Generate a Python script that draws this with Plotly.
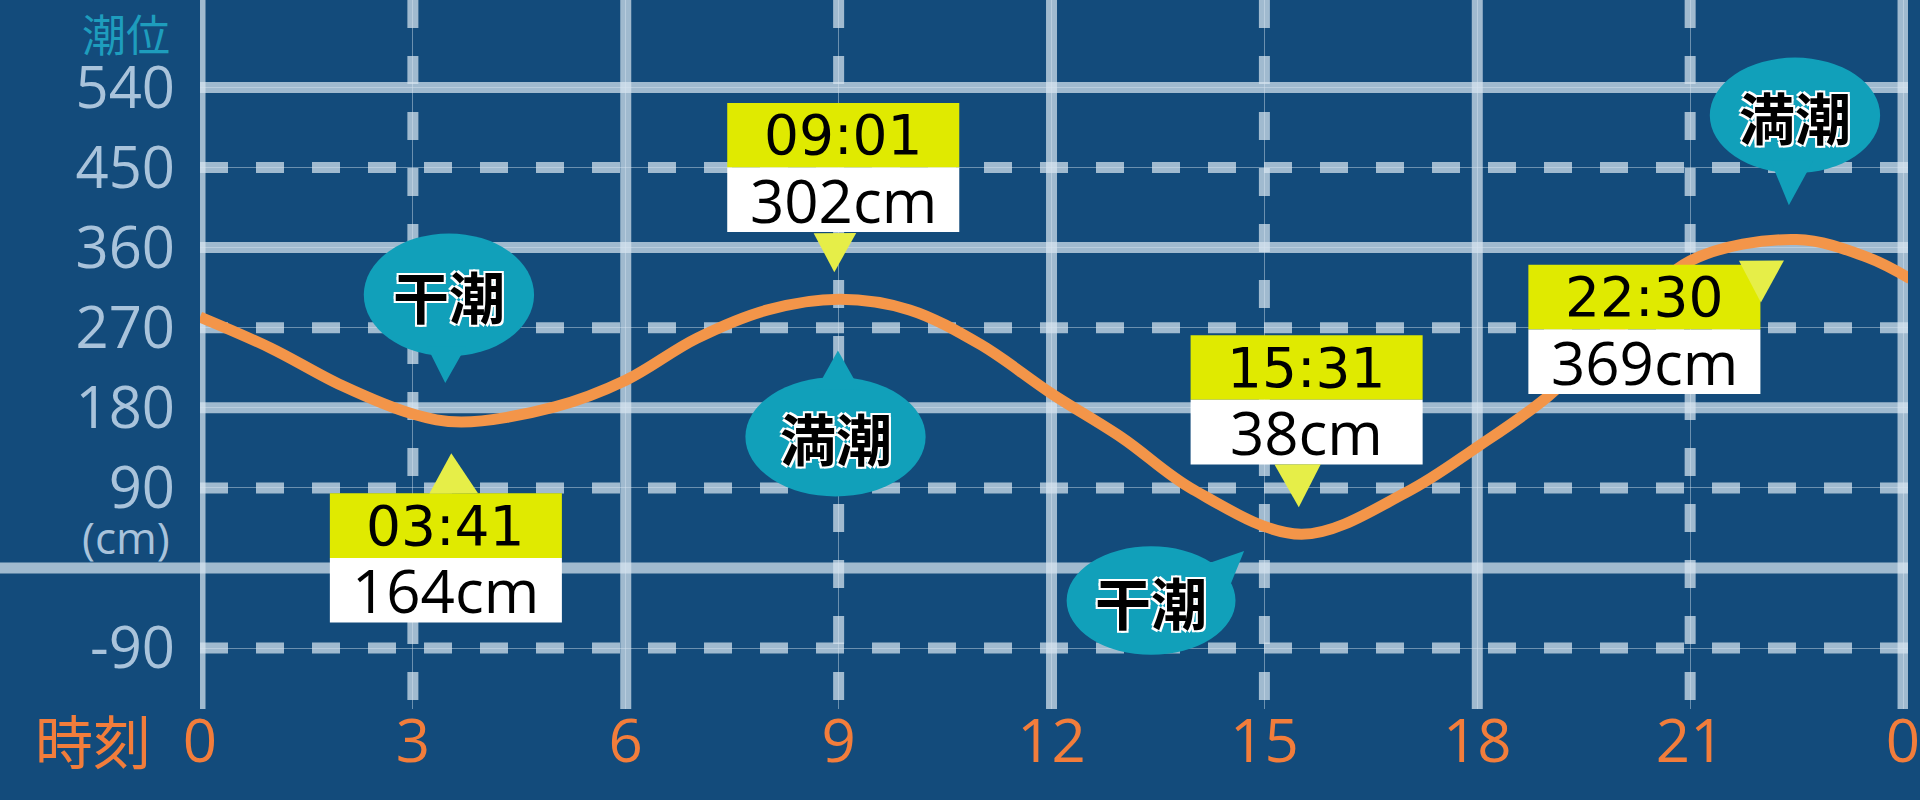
import plotly.graph_objects as go

# tide curve (hour of day, cm)
tide_hours = [0, 1, 2, 3, 3.68, 5, 6, 7, 8, 9.02, 10, 11, 12, 13, 14,
              15.52, 17, 18, 19, 20, 21, 22.5, 23.5, 24.1]
tide_cm = [282, 247, 205, 173, 164, 181, 211, 258, 290, 302, 290, 251, 196, 146, 88,
           38, 85, 136, 193, 270, 345, 369, 349, 325]

# high / low water events
event_times = ["03:41", "09:01", "15:31", "22:30"]
event_heights = [164, 302, 38, 369]
event_kinds = ["干潮", "満潮", "干潮", "満潮"]

x_ticks = [0, 3, 6, 9, 12, 15, 18, 21, 24]
x_ticktext = ["0", "3", "6", "9", "12", "15", "18", "21", "0"]
y_grid = [540, 450, 360, 270, 180, 90, 0, -90]
y_ticks = [540, 450, 360, 270, 180, 90, -90]
y_ticktext = ["540", "450", "360", "270", "180", "90", "-90"]

BG = "#134b7b"
GRID = "rgba(215,228,240,0.72)"
ORANGE = "#f39549"
TEAL = "#11a0ba"
YELLOW = "#e0ea00"
POINTER = "#e6ee48"

# callout placement (data units): label box, yellow pointer, speech bubble
boxes = [  # x0, top
    (1.83, 81), (7.43, 517), (13.96, 253), (18.72, 330)]
box_w, band_h = 3.27, 72.5
box_ptrs = [
    [(3.233, 81), (3.918, 81), (3.541, 126)],
    [(8.648, 371), (9.248, 371), (8.939, 327)],
    [(15.142, 108), (15.794, 108), (15.485, 60)],
    [(21.688, 334), (22.322, 334), (21.997, 287)],
]
bubbles = [  # cx, cy, half width, half height
    (3.508, 304, 1.2, 69), (8.956, 142, 1.27, 67),
    (13.403, -44, 1.19, 61), (22.477, 497, 1.2, 65)]
bubble_ptrs = [
    [(3.199, 246), (3.747, 246), (3.456, 205)],
    [(8.682, 195), (9.299, 195), (8.990, 239)],
    [(14.080, -6), (14.474, -36), (14.714, 11)],
    [(22.134, 446), (22.734, 446), (22.391, 396)],
]


def lift(h):
    # the source artwork sits slightly rotated; keep callouts level with its grid
    return 1.3 + 0.457 * h


def tri(pts):
    return "M " + " L ".join(f"{x},{y + lift(x)}" for x, y in pts) + " Z"


fig = go.Figure()
fig.add_trace(go.Scatter(
    x=tide_hours, y=tide_cm, mode="lines", hoverinfo="skip",
    line=dict(color=ORANGE, width=11, shape="spline", smoothing=1.0)))

shapes = []
# thick grid: solid every 180cm / 6h, dashed in between
for v in y_grid:
    shapes.append(dict(
        type="line", xref="paper", yref="y", x0=-0.12 if v == 0 else 0, x1=1, y0=v, y1=v,
        layer="between",
        line=dict(color=GRID, width=11, dash="solid" if v % 180 == 0 else "28px,28px")))
for h in x_ticks:
    shapes.append(dict(
        type="line", xref="x", yref="paper", x0=h, x1=h, y0=1, y1=0, layer="between",
        line=dict(color=GRID, width=11, dash="solid" if h % 6 == 0 else "28px,28px")))

annotations = []
for i in range(len(event_times)):
    cx, cy, hw, hh = bubbles[i]
    cy += lift(cx)
    shapes.append(dict(type="circle", xref="x", yref="y", x0=cx - hw, x1=cx + hw,
                       y0=cy - hh, y1=cy + hh, fillcolor=TEAL, line_width=0, layer="above"))
    shapes.append(dict(type="path", xref="x", yref="y", path=tri(bubble_ptrs[i]),
                       fillcolor=TEAL, line_width=0, layer="above"))
    annotations.append(dict(
        x=cx, y=cy, xref="x", yref="y", text=event_kinds[i], showarrow=False,
        font=dict(family="Noto Sans CJK JP", size=56, color="black", weight=700,
                  shadow="2px 2px 0 #fff, -2px -2px 0 #fff, 2px -2px 0 #fff, -2px 2px 0 #fff")))

    x0, top = boxes[i]
    top += lift(x0 + box_w / 2)
    shapes.append(dict(type="rect", xref="x", yref="y", x0=x0, x1=x0 + box_w,
                       y0=top - band_h, y1=top, fillcolor=YELLOW, line_width=0, layer="above"))
    shapes.append(dict(type="rect", xref="x", yref="y", x0=x0, x1=x0 + box_w,
                       y0=top - 2 * band_h, y1=top - band_h, fillcolor="white",
                       line_width=0, layer="above"))
    shapes.append(dict(type="path", xref="x", yref="y", path=tri(box_ptrs[i]),
                       fillcolor=POINTER, line_width=0, layer="above"))
    annotations.append(dict(
        x=x0 + box_w / 2, y=top - band_h / 2, xref="x", yref="y", text=event_times[i],
        showarrow=False, font=dict(family="DejaVu Sans", size=55, color="black")))
    annotations.append(dict(
        x=x0 + box_w / 2, y=top - 1.5 * band_h, xref="x", yref="y",
        text=f"{event_heights[i]}cm", showarrow=False,
        font=dict(family="Open Sans", size=60, color="black")))

annotations += [
    dict(x=-0.0163, y=0.954, xref="paper", yref="paper", text="潮位", showarrow=False,
         xanchor="right", yanchor="middle",
         font=dict(family="Noto Sans CJK JP", size=44, color="#1e9dbd")),
    dict(x=-0.0163, y=0.243, xref="paper", yref="paper", text="(cm)", showarrow=False,
         xanchor="right", yanchor="middle",
         font=dict(family="Open Sans", size=44, color="#a9c3db")),
    dict(x=-0.0628, y=-0.042, xref="paper", yref="paper", text="時刻", showarrow=False,
         xanchor="center", yanchor="middle",
         font=dict(family="Noto Sans CJK JP", size=58, color="#f27d3b")),
]

fig.update_layout(
    width=1920, height=800,
    margin=dict(l=200, r=0, t=0, b=91),
    paper_bgcolor=BG, plot_bgcolor=BG,
    showlegend=False,
    shapes=shapes, annotations=annotations,
    xaxis=dict(range=[0, 24.07], tickvals=x_ticks, ticktext=x_ticktext,
               tickfont=dict(family="Open Sans", size=60, color="#f27d3b"),
               showgrid=True, gridcolor="rgba(215,228,240,0.45)", gridwidth=1,
               zeroline=False, showline=False, ticks="", ticklabelstandoff=-8,
               ticklabeloverflow="allow", fixedrange=True),
    yaxis=dict(range=[-158.4, 638.2], tickvals=y_ticks, ticktext=y_ticktext,
               tickfont=dict(family="Open Sans", size=58, color="#a9c3db"),
               showgrid=True, gridcolor="rgba(215,228,240,0.45)", gridwidth=1,
               zeroline=False, showline=False, ticks="", ticklabelstandoff=24,
               fixedrange=True),
)

fig.write_html("out.html", config={"displayModeBar": False},
               post_script="document.body.style.margin='0';"
                           "document.body.style.overflow='hidden';"
                           f"document.body.style.background='{BG}';")
